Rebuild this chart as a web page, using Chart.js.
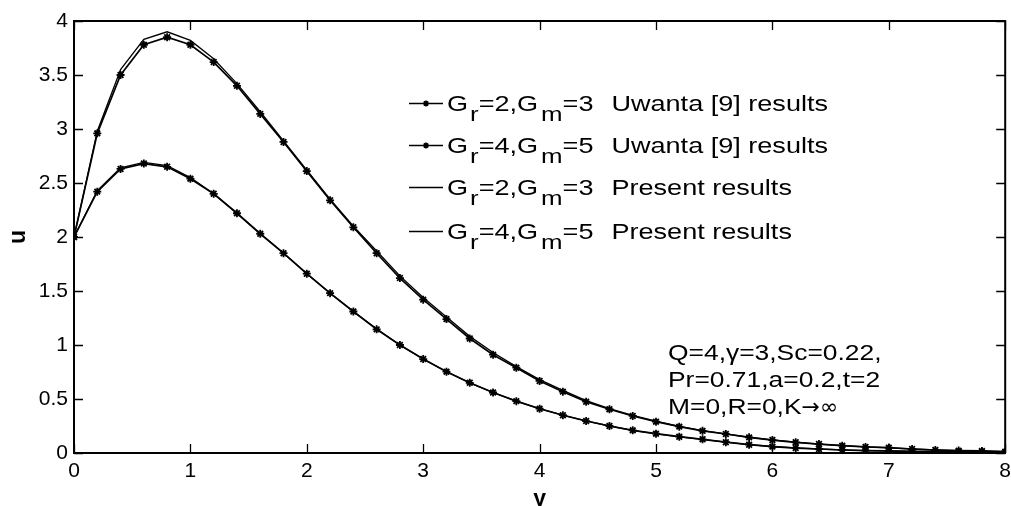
<!DOCTYPE html>
<html>
<head>
<meta charset="UTF-8">
<title>u profiles</title>
<script src="https://cdn.jsdelivr.net/npm/chart.js"></script>
<style>
    html, body { margin: 0; padding: 0; background: #fff; overflow: hidden; }
    #wrap { width: 1011px; height: 518px; }
</style>
</head>
<body>
<div id="wrap"><canvas id="uChart" width="1011" height="518"></canvas></div>
<script>
    // y positions (step 0.2)
    const yPos = [0, 0.2, 0.4, 0.6, 0.8, 1.0, 1.2, 1.4, 1.6, 1.8, 2.0, 2.2, 2.4, 2.6, 2.8, 3.0,
        3.2, 3.4, 3.6, 3.8, 4.0, 4.2, 4.4, 4.6, 4.8, 5.0, 5.2, 5.4, 5.6, 5.8, 6.0,
        6.2, 6.4, 6.6, 6.8, 7.0, 7.2, 7.4, 7.6, 7.8, 8.0];

    // Uwanta [9], Gr=2, Gm=3
    const uwantaLow = [2.0, 2.42, 2.63, 2.68, 2.65, 2.54, 2.40, 2.22, 2.03, 1.85, 1.66, 1.48, 1.31, 1.145, 1.00, 0.87,
        0.753, 0.65, 0.56, 0.48, 0.41, 0.35, 0.296, 0.25, 0.21, 0.179, 0.151, 0.127, 0.10, 0.077, 0.059,
        0.046, 0.037, 0.028, 0.022, 0.019, 0.015, 0.012, 0.010, 0.008, 0.006];
    // Uwanta [9], Gr=4, Gm=5
    const uwantaHigh = [2.0, 2.96, 3.50, 3.78, 3.85, 3.78, 3.62, 3.40, 3.14, 2.88, 2.61, 2.34, 2.09, 1.85, 1.62, 1.42,
        1.24, 1.06, 0.91, 0.79, 0.667, 0.568, 0.475, 0.405, 0.343, 0.29, 0.244, 0.205, 0.176, 0.145, 0.12,
        0.099, 0.083, 0.068, 0.056, 0.05, 0.037, 0.028, 0.022, 0.019, 0.012];
    // present, Gr=2, Gm=3
    const presentLow = [2.0, 2.43, 2.64, 2.69, 2.66, 2.55, 2.40, 2.22, 2.03, 1.85, 1.66, 1.48, 1.31, 1.15, 1.00, 0.87,
        0.755, 0.65, 0.56, 0.48, 0.41, 0.35, 0.297, 0.25, 0.21, 0.178, 0.15, 0.126, 0.10, 0.078, 0.06,
        0.047, 0.037, 0.029, 0.022, 0.018, 0.014, 0.011, 0.009, 0.007, 0.006];
    // present, Gr=4, Gm=5
    const presentHigh = [2.0, 2.98, 3.55, 3.83, 3.90, 3.82, 3.65, 3.42, 3.16, 2.89, 2.62, 2.35, 2.10, 1.87, 1.64, 1.44,
        1.26, 1.08, 0.93, 0.80, 0.68, 0.58, 0.485, 0.41, 0.348, 0.294, 0.247, 0.208, 0.177, 0.146, 0.121,
        0.10, 0.083, 0.068, 0.056, 0.048, 0.037, 0.028, 0.022, 0.018, 0.012];

    const legendRows = [
        { gr: "2", gm: "3", text: "Uwanta [9] results", marker: true },
        { gr: "4", gm: "5", text: "Uwanta [9] results", marker: true },
        { gr: "2", gm: "3", text: "Present results", marker: false },
        { gr: "4", gm: "5", text: "Present results", marker: false }
    ];
    const paramLines = ["Q=4,\u03B3=3,Sc=0.22,", "Pr=0.71,a=0.2,t=2", "M=0,R=0,K"];

    const FONT = "Arial, 'Liberation Sans', sans-serif";

    function pts(ys) {
        return yPos.map((x, i) => ({ x: x, y: ys[i] }));
    }

    function series(label, ys, marker) {
        return {
            label: label,
            data: pts(ys),
            borderColor: "#000",
            backgroundColor: "#000",
            borderWidth: marker ? 1.7 : 1.3,
            pointStyle: "star",
            pointRadius: marker ? 4 : 0,
            pointBorderWidth: 1.8,
            pointHoverRadius: 0,
            tension: 0,
            fill: false
        };
    }

    // inward ticks on all four sides, plus the top/right box lines
    const boxTicks = {
        id: "boxTicks",
        afterDatasetsDraw(chart) {
            const { ctx, chartArea: a, scales } = chart;
            const len = 9;
            ctx.save();
            ctx.strokeStyle = "#000";
            ctx.lineWidth = 1.3;
            ctx.beginPath();
            scales.x.ticks.forEach(t => {
                const px = Math.round(scales.x.getPixelForValue(t.value)) + 0.5;
                ctx.moveTo(px, a.bottom); ctx.lineTo(px, a.bottom - len);
                ctx.moveTo(px, a.top); ctx.lineTo(px, a.top + len);
            });
            scales.y.ticks.forEach(t => {
                const py = Math.round(scales.y.getPixelForValue(t.value)) + 0.5;
                ctx.moveTo(a.left, py); ctx.lineTo(a.left + len, py);
                ctx.moveTo(a.right, py); ctx.lineTo(a.right - len, py);
            });
            ctx.stroke();
            ctx.lineWidth = 2;
            ctx.beginPath();
            ctx.moveTo(a.left, a.top); ctx.lineTo(a.right, a.top); ctx.lineTo(a.right, a.bottom);
            ctx.stroke();
            ctx.restore();
        }
    };

    function drawStar(ctx, x, y, r) {
        ctx.beginPath();
        ctx.moveTo(x - r, y); ctx.lineTo(x + r, y);
        ctx.moveTo(x, y - r); ctx.lineTo(x, y + r);
        const d = r * 0.7071;
        ctx.moveTo(x - d, y - d); ctx.lineTo(x + d, y + d);
        ctx.moveTo(x - d, y + d); ctx.lineTo(x + d, y - d);
        ctx.stroke();
    }

    // text drawn slightly widened, returns advance
    function wideText(ctx, s, x, y, font, sx) {
        ctx.font = font;
        ctx.save();
        ctx.translate(x, y);
        ctx.scale(sx, 1);
        ctx.fillText(s, 0, 0);
        ctx.restore();
        return ctx.measureText(s).width * sx;
    }

    // legend with G_r / G_m subscripts, and the parameter block
    const notes = {
        id: "notes",
        afterDraw(chart) {
            const ctx = chart.ctx;
            ctx.save();
            ctx.fillStyle = "#000";
            ctx.strokeStyle = "#000";
            ctx.textBaseline = "alphabetic";
            const main = "22px " + FONT;
            const sub = "21px " + FONT;
            const sx = 1.23;
            const rowY = [103, 145, 187, 231];
            legendRows.forEach((r, i) => {
                const cy = rowY[i];
                ctx.lineWidth = 1.3;
                ctx.beginPath();
                ctx.moveTo(409, cy + 0.5); ctx.lineTo(443, cy + 0.5);
                ctx.stroke();
                if (r.marker) { ctx.lineWidth = 1.6; drawStar(ctx, 426, cy + 0.5, 3); }
                const base = cy + 8;
                let x = 447;
                x += wideText(ctx, "G", x, base, main, sx) + 2;
                x += wideText(ctx, "r", x, base + 10, sub, sx);
                x += wideText(ctx, "=" + r.gr + ",G", x, base, main, sx) + 3;
                x += wideText(ctx, "m", x, base + 10, sub, sx);
                x += wideText(ctx, "=" + r.gm, x, base, main, sx) + 18;
                wideText(ctx, r.text, x, base, main, sx);
            });
            let end = 0;
            paramLines.forEach((s, i) => {
                end = 668 + wideText(ctx, s, 668, 360 + i * 27, main, 1.2);
            });
            // K -> infinity, with a larger arrow glyph
            wideText(ctx, "\u2192\u221E", end, 414, "22px 'DejaVu Sans', sans-serif", 1.0);
            ctx.restore();
        }
    };

    new Chart(document.getElementById("uChart"), {
        type: "line",
        data: {
            datasets: [
                series("Gr=2,Gm=3 Uwanta [9] results", uwantaLow, true),
                series("Gr=4,Gm=5 Uwanta [9] results", uwantaHigh, true),
                series("Gr=2,Gm=3 Present results", presentLow, false),
                series("Gr=4,Gm=5 Present results", presentHigh, false)
            ]
        },
        options: {
            responsive: false,
            animation: false,
            layout: { padding: { top: 21, right: 4, left: 0, bottom: 0 } },
            plugins: { legend: { display: false }, tooltip: { enabled: false } },
            scales: {
                x: {
                    type: "linear",
                    min: 0, max: 8,
                    afterFit: s => { s.height = 65; s.paddingRight = 0; s.paddingLeft = 0; },
                    ticks: { stepSize: 1, color: "#000", padding: 6, font: { family: FONT, size: 21 } },
                    grid: { drawOnChartArea: false, drawTicks: false },
                    border: { color: "#000", width: 2 },
                    title: { display: true, text: "y", color: "#000", padding: { bottom: 5 },
                        font: { family: FONT, size: 23, weight: "bold" } }
                },
                y: {
                    min: 0, max: 4,
                    afterFit: s => { s.width = 74; s.paddingTop = 0; s.paddingBottom = 0; },
                    ticks: { stepSize: 0.5, color: "#000", padding: 6, font: { family: FONT, size: 21 },
                        callback: v => String(v) },
                    grid: { drawOnChartArea: false, drawTicks: false },
                    border: { color: "#000", width: 2 },
                    title: { display: true, text: "u", color: "#000", padding: { top: 5 },
                        font: { family: FONT, size: 23, weight: "bold" } }
                }
            }
        },
        plugins: [boxTicks, notes]
    });
</script>
</body>
</html>
